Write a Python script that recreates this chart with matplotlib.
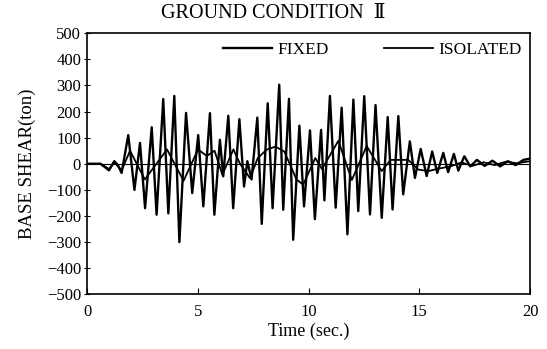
import matplotlib
matplotlib.use("Agg")
import matplotlib.pyplot as plt

# peak / trough values (time in sec, shear in ton)
fixed_t = [0.0, 0.6, 0.98, 1.22, 1.38, 1.55, 1.85, 2.13, 2.38, 2.61, 2.91, 3.13,
           3.43, 3.66, 3.93, 4.16, 4.46, 4.74, 5.01, 5.24, 5.54, 5.74, 5.99, 6.14,
           6.37, 6.59, 6.87, 7.08, 7.23, 7.42, 7.68, 7.88, 8.15, 8.37, 8.67, 8.85,
           9.11, 9.30, 9.58, 9.79, 10.06, 10.28, 10.56, 10.71, 10.96, 11.22, 11.49,
           11.75, 12.02, 12.24, 12.51, 12.77, 13.02, 13.30, 13.57, 13.79, 14.05,
           14.27, 14.57, 14.80, 15.06, 15.33, 15.58, 15.81, 16.08, 16.30, 16.56,
           16.76, 17.03, 17.30, 17.60, 17.95, 18.30, 18.65, 19.00, 19.35, 19.70, 20.0]
fixed_v = [0, 0, -25, 10, -5, -35, 110, -100, 80, -170, 140, -195,
           248, -190, 260, -300, 195, -112, 110, -163, 194, -195, 92, -48,
           184, -170, 171, -87, 10, -60, 177, -230, 232, -170, 303, -176,
           249, -291, 146, -163, 128, -212, 130, -140, 260, -168, 215,
           -270, 246, -181, 259, -194, 225, -207, 179, -175, 183,
           -117, 86, -54, 57, -47, 47, -35, 42, -32, 38,
           -26, 29, -10, 15, -8, 12, -10, 10, -5, 15, 20]

iso_t = [0.0, 0.6, 0.98, 1.22, 1.55, 1.93, 2.60, 3.60, 4.35, 5.00, 5.40, 5.75,
         6.10, 6.60, 6.90, 7.35, 7.70, 8.10, 8.50, 8.90, 9.45, 9.75, 10.30,
         10.60, 11.34, 11.95, 12.62, 13.30, 13.70, 14.50, 14.95, 15.40, 15.90,
         16.40, 16.90, 17.40, 17.90, 18.40, 18.90, 19.40, 20.0]
iso_v = [0, 0, -20, 5, -25, 50, -60, 55, -65, 55, 30, 50,
         -42, 55, 0, -55, 22, 54, 66, 47, -60, -80, 22,
         -20, 88, -62, 68, -28, 15, 15, -22, -28, -18,
         -10, 5, -8, 6, -5, 8, 2, 10]

plt.rcParams["font.family"] = ["Liberation Serif", "DejaVu Serif"]

fig = plt.figure(figsize=(5.47, 3.49), dpi=100)
ax = fig.add_axes([0.1596, 0.1567, 0.8094, 0.7479])

ax.axhline(0, color="black", lw=0.8)
ax.plot(fixed_t, fixed_v, color="black", lw=1.7, label="FIXED")
ax.plot(iso_t, iso_v, color="black", lw=1.3, label="ISOLATED")

ax.set_xlim(0, 20)
ax.set_ylim(-500, 500)
ax.set_xticks([0, 5, 10, 15, 20])
ax.set_yticks(range(-500, 501, 100))
ax.tick_params(axis="y", direction="inout", length=5, labelsize=12, pad=2)
ax.tick_params(axis="x", direction="in", length=4, labelsize=12, pad=7)
for s in ax.spines.values():
    s.set_linewidth(1.2)

ax.set_xlabel("Time (sec.)", fontsize=13, labelpad=2)
ax.set_ylabel("BASE SHEAR(ton)", fontsize=13.5, labelpad=8)
ax.set_title("GROUND CONDITION  \u2161", fontsize=14.5, pad=11, x=0.42)

ax.legend(ncol=2, frameon=False, loc="upper right", fontsize=12.5,
          handlelength=2.8, handletextpad=0.3, columnspacing=3.2,
          borderaxespad=0.1)

fig.savefig("out.png", dpi=100)
